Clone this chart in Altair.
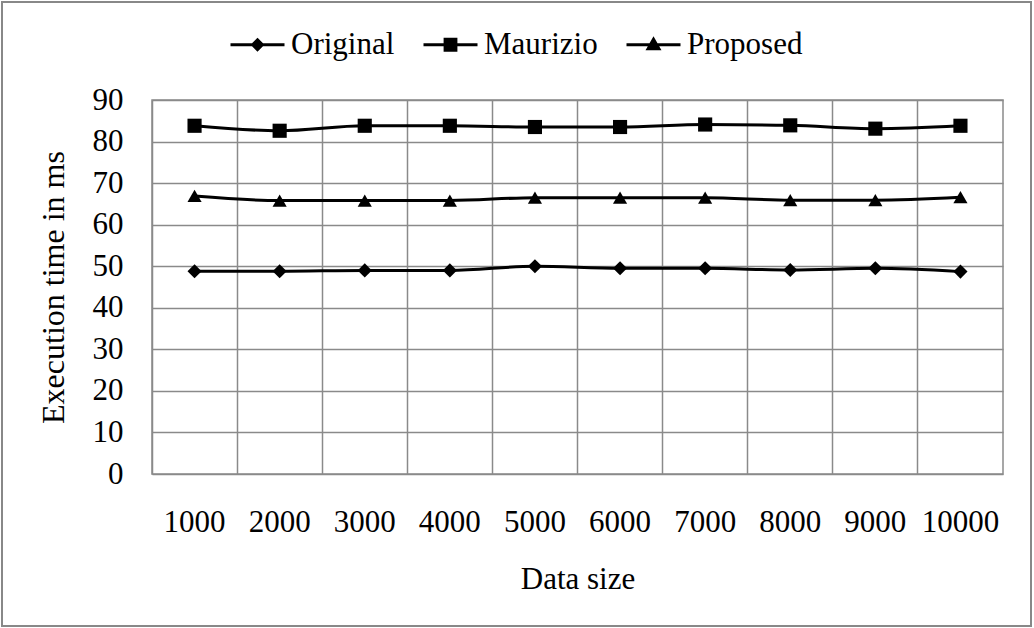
import altair as alt
import pandas as pd

sizes = ["1000", "2000", "3000", "4000", "5000", "6000", "7000", "8000", "9000", "10000"]
series_names = ["Original", "Maurizio", "Proposed"]
original = [48.8, 48.8, 49.0, 49.0, 50.0, 49.5, 49.5, 49.1, 49.5, 48.7]
maurizio = [83.8, 82.6, 83.8, 83.8, 83.5, 83.5, 84.1, 83.9, 83.1, 83.8]
proposed = [66.9, 65.8, 65.8, 65.8, 66.5, 66.5, 66.5, 65.9, 65.9, 66.6]
y_ticks = [0, 10, 20, 30, 40, 50, 60, 70, 80, 90]

rows = []
for name, vals in zip(series_names, [original, maurizio, proposed]):
    for s, v in zip(sizes, vals):
        rows.append({"series": name, "size": s, "value": v})
df = pd.DataFrame(rows)

FONT = "Liberation Serif"
GRID = "#8a8a8a"

x_enc = alt.X(
    "size:O",
    sort=sizes,
    scale=alt.Scale(type="band", paddingInner=0, paddingOuter=0),
    axis=alt.Axis(
        title="Data size", labelAngle=0, ticks=False, domain=False,
        grid=True, gridColor=GRID, gridWidth=1.5, bandPosition=0,
        labelFont=FONT, labelFontSize=31, labelColor="black", labelPadding=33,
        titleFont=FONT, titleFontSize=31, titleFontWeight="normal", titleColor="black",
        titlePadding=27,
    ),
)
y_enc = alt.Y(
    "value:Q",
    scale=alt.Scale(domain=[0, 90], nice=False),
    axis=alt.Axis(
        title="Execution time in ms", values=y_ticks, ticks=False, domain=False,
        grid=True, gridColor=GRID, gridWidth=1.5,
        labelFont=FONT, labelFontSize=31, labelColor="black", labelPadding=29,
        titleFont=FONT, titleFontSize=32, titleFontWeight="normal", titleColor="black",
        titlePadding=22,
    ),
)

lines = alt.Chart(df).mark_line(color="black", strokeWidth=3, interpolate="monotone").encode(
    x=x_enc, y=y_enc, detail="series:N"
)

points = alt.Chart(df).mark_point(filled=True, color="black", size=200, opacity=1).encode(
    x=x_enc, y=y_enc,
    shape=alt.Shape(
        "series:N",
        scale=alt.Scale(domain=series_names, range=["diamond", "square", "triangle-up"]),
        legend=None,
    ),
)

legend_paths = [
    "M-1,0H1M0,-0.18L0.18,0L0,0.18L-0.18,0Z",
    "M-1,0H1M-0.2,-0.2H0.2V0.2H-0.2Z",
    "M-1,0H1M0,-0.2L0.2,0.15H-0.2Z",
]
legend_layer = alt.Chart(df).transform_filter("false").mark_point(
    filled=True, color="black", stroke="black", strokeWidth=3, size=2916, opacity=1
).encode(
    x=x_enc, y=y_enc,
    shape=alt.Shape(
        "series:N",
        scale=alt.Scale(domain=series_names, range=legend_paths),
        legend=alt.Legend(
            title=None, orient="none", direction="horizontal",
            legendX=77, legendY=-84, symbolSize=2916, symbolStrokeWidth=3,
            labelFont=FONT, labelFontSize=31, labelColor="black", labelOffset=5,
            columnPadding=22, padding=0, symbolOffset=0,
        ),
    ),
)

frame = alt.Chart(pd.DataFrame({"a": [0]})).mark_rect(
    fillOpacity=0, stroke="#888888", strokeWidth=2
).encode(
    x=alt.value(-150), x2=alt.value(879), y=alt.value(-98), y2=alt.value(526)
)

chart = alt.layer(lines, points, legend_layer, frame).resolve_scale(
    shape="independent"
).properties(
    width=851, height=374,
    autosize=alt.AutoSizeParams(type="none"),
    padding={"left": 152, "top": 100, "right": 31, "bottom": 154},
    background="white",
).configure_view(stroke=GRID, strokeWidth=1.5)

chart.save("out.html", embed_options={"renderer": "svg", "actions": False})
